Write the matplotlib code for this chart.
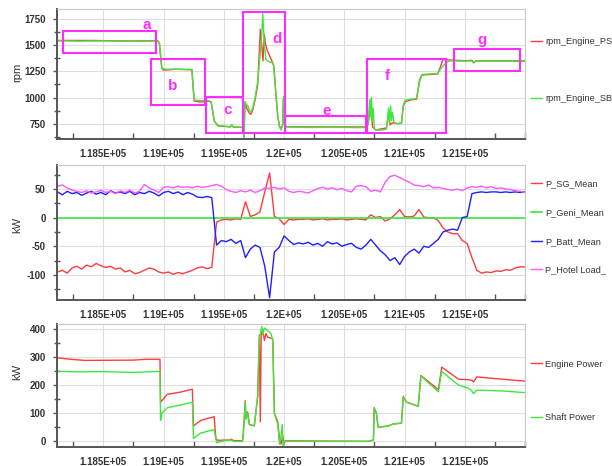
import numpy as np
import matplotlib
matplotlib.use("Agg")
from matplotlib import pyplot as plt
from matplotlib.patches import Rectangle
from matplotlib.ticker import MultipleLocator

plt.rcParams["font.family"] = ["Liberation Sans", "DejaVu Sans"]
plt.rcParams["axes.unicode_minus"] = False

# shared time axis
x_ticks = [118500, 119000, 119500, 120000, 120500, 121000, 121500]
x_tick_labels = ["1.185E+05", "1.19E+05", "1.195E+05", "1.2E+05", "1.205E+05", "1.21E+05", "1.215E+05"]

# --- top panel: engine rpm ---
t_sb = [118120, 118300, 118500, 118700, 118950, 118965, 118985, 119000, 119100, 119235, 119245, 119255, 119300, 119378, 119395,
	119420, 119450, 119500, 119555, 119565, 119580, 119640, 119660, 119668, 119676, 119690, 119700, 119712, 119725, 119740,
	119760, 119781, 119800, 119815, 119823, 119837, 119850, 119880, 119906, 119915, 119935, 119948, 119962, 119975, 119989,
	119995, 120003, 120017, 120200, 120400, 120600, 120690, 120700, 120711, 120718, 120725, 120732, 120739, 120750, 120780,
	120810, 120850, 120868, 120875, 120885, 120892, 120900, 120912, 120940, 120975, 120990, 121005, 121060, 121100, 121125,
	121145, 121200, 121275, 121310, 121345, 121370, 121500, 121560, 121573, 121590, 122000]
rpm_sb = [1542, 1538, 1541, 1537, 1540, 1520, 1290, 1272, 1270, 1268, 1100, 975, 972, 970, 960,
	780, 735, 728, 722, 740, 720, 718, 715, 620, 955, 930, 920, 880, 860, 900,
	1000, 1150, 1400, 1600, 1800, 1500, 1360, 1340, 1330, 1300, 1000, 820, 720, 690, 740,
	1010, 760, 720, 715, 718, 714, 716, 760, 980, 820, 1000, 780, 900, 700, 690,
	690, 700, 900, 760, 920, 780, 860, 760, 750, 755, 930, 975, 985, 990, 1150,
	1220, 1225, 1230, 1290, 1330, 1350, 1348, 1350, 1330, 1348, 1345]

t_ps = [118120, 118400, 118700, 118950, 118965, 118985, 119000, 119100, 119235, 119245, 119255, 119300, 119378, 119395, 119420,
	119450, 119500, 119555, 119565, 119580, 119660, 119668, 119676, 119690, 119712, 119725, 119740, 119760, 119781, 119795,
	119803, 119815, 119825, 119837, 119845, 119860, 119880, 119906, 119915, 119935, 119948, 119962, 119975, 119989, 119995,
	120003, 120017, 120300, 120690, 120705, 120715, 120725, 120735, 120760, 120800, 120850, 120870, 120880, 120900, 120940,
	120975, 120990, 121005, 121060, 121100, 121125, 121145, 121200, 121275, 121300, 121320, 121345, 121500, 121560, 121573,
	121590, 122000]
rpm_ps = [1545, 1545, 1540, 1542, 1520, 1280, 1262, 1270, 1266, 1100, 968, 958, 965, 955, 780,
	730, 726, 720, 735, 718, 716, 700, 960, 900, 850, 840, 880, 980, 1120, 1450,
	1650, 1500, 1350, 1600, 1520, 1450, 1400, 1330, 1300, 990, 820, 730, 700, 740, 990,
	760, 722, 720, 720, 800, 960, 850, 720, 690, 700, 710, 850, 740, 760, 752,
	758, 920, 960, 980, 985, 1170, 1215, 1220, 1225, 1300, 1365, 1360, 1352, 1355, 1335,
	1350, 1350]

# marked regions on the rpm plot
box_names = ["a", "b", "c", "d", "e", "f", "g"]
box_x = [(118169, 118933), (118892, 119342), (119350, 119656), (119661, 120009), (120009, 120677), (120689, 121344), (121408, 121961)]
box_y = [(1430, 1639), (930, 1370), (664, 1009), (664, 1819), (664, 828), (664, 1370), (1250, 1462)]
name_pos = [(118864, 1693), (119073, 1107), (119531, 879), (119942, 1557), (120350, 870), (120856, 1202), (121642, 1550)]

# --- middle panel: power split, sampled every 40 s ---
t_mid = np.arange(118120, 122001, 40)
p_sg = [-95, -92, -97, -88, -85, -90, -83, -86, -80, -84, -87, -85, -90, -88, -95, -92, -98, -96, -92, -88,
	-90, -95, -97, -95, -99, -96, -98, -95, -92, -88, -86, -89, -87, -8, -4, -3, -4, -2, -3, 28,
	2, 5, 10, 45, 78, 2, -2, -12, -3, -4, -3, -3, -2, -4, -3, -2, -4, -3, -3, -2,
	-4, -3, -2, -3, -4, 5, 0, 2, -6, -2, 5, 14, 2, 1, 3, 14, 1, 0, 0, -5,
	-18, -25, -28, -28, -40, -45, -70, -92, -97, -95, -96, -93, -94, -91, -92, -88, -86, -86]
p_batt = [45, 40, 46, 42, 44, 39, 43, 46, 41, 44, 40, 47, 43, 45, 42, 46, 40, 44, 42, 46,
	43, 38, 44, 46, 42, 45, 40, 44, 41, 36, 35, 37, 35, -48, -40, -42, -38, -45, -40, -70,
	-55, -48, -52, -85, -140, -60, -52, -32, -40, -47, -44, -46, -43, -48, -45, -50, -42, -46, -44, -50,
	-47, -45, -52, -55, -48, -38, -48, -58, -65, -75, -70, -82, -68, -60, -55, -62, -50, -52, -45, -38,
	-25, -22, -20, -22, 0, 2, 42, 44, 45, 44, 45, 45, 44, 45, 44, 45, 44, 45]
p_hotel = [55, 57, 52, 48, 46, 44, 47, 43, 45, 48, 44, 46, 42, 47, 44, 48, 43, 46, 58, 52,
	48, 44, 53, 54, 52, 55, 53, 54, 52, 55, 53, 54, 56, 58, 55, 49, 46, 44, 47, 45,
	48, 44, 47, 52, 51, 53, 50, 52, 46, 44, 46, 45, 43, 47, 51, 53, 50, 52, 49, 51,
	47, 45, 55, 56, 54, 46, 48, 45, 62, 72, 74, 70, 66, 62, 57, 56, 54, 57, 52, 53,
	51, 49, 48, 50, 47, 52, 54, 53, 55, 52, 54, 51, 52, 50, 49, 47, 46, 44]
t_geni = [118120, 122000]
p_geni = [0, 0]

# --- bottom panel: engine / shaft power ---
t_eng = [118120, 118250, 118350, 118750, 118850, 118970, 118975, 119031, 119142, 119239, 119248, 119309, 119420, 119434, 119448,
	119550, 119560, 119580, 119655, 119662, 119678, 119684, 119698, 119712, 119753, 119781, 119795, 119803, 119810, 119823,
	119837, 119850, 119864, 119892, 119906, 119920, 119948, 119962, 119975, 119989, 119998, 120010, 120700, 120742, 120748,
	120767, 120781, 120864, 120906, 120975, 120989, 121017, 121114, 121136, 121281, 121309, 121448, 121531, 121559, 121573,
	121600, 121809, 122000]
p_eng = [298, 292, 289, 290, 293, 293, 140, 168, 176, 186, 55, 75, 88, 10, 4,
	5, 8, 3, 2, 30, 145, 80, 105, 60, 56, 160, 380, 70, 380, 400,
	360, 385, 372, 368, 365, 100, 70, 10, -10, 20, -10, 2, 0, 5, 120,
	100, 50, 55, 62, 65, 160, 140, 125, 235, 185, 265, 222, 220, 218, 212,
	230, 222, 215]
t_shaft = [118120, 118300, 118500, 118750, 118970, 118975, 118985, 119031, 119142, 119239, 119248, 119309, 119420, 119440, 119500,
	119560, 119580, 119655, 119662, 119678, 119684, 119698, 119712, 119753, 119781, 119795, 119803, 119815, 119823, 119837,
	119864, 119892, 119906, 119920, 119948, 119962, 119975, 119985, 119992, 120003, 120700, 120742, 120748, 120767, 120781,
	120864, 120906, 120975, 120989, 121017, 121114, 121136, 121281, 121309, 121448, 121531, 121559, 121573, 121600, 121809,
	122000]
p_shaft = [250, 248, 249, 246, 250, 75, 100, 120, 130, 140, 10, 30, 42, -5, 2,
	5, 0, 0, 20, 140, 80, 100, 60, 55, 160, 370, 380, 410, 380, 405,
	395, 385, 360, 100, 60, -10, 20, 60, -20, 0, 0, 5, 120, 100, 50,
	55, 62, 65, 157, 140, 125, 234, 177, 250, 201, 190, 180, 170, 183, 180,
	174]

RED = "#ff3c3c"
GREEN = "#3de83d"
BLUE = "#1e1eff"
PINK = "#ff55ff"
BOX = "#ff2cff"


def styleAxis(ax, yticks, ylim, yminor, ylabel, label_y):
	ax.set_xlim(118115, 122000)
	ax.set_ylim(*ylim)
	ax.set_xticks(x_ticks)
	ax.set_xticklabels(x_tick_labels)
	ax.xaxis.set_minor_locator(MultipleLocator(250))
	ax.set_yticks(yticks)
	ax.yaxis.set_minor_locator(MultipleLocator(yminor))
	ax.grid(True, which="major", color="#dddddd", linewidth=0.8)
	ax.set_axisbelow(True)
	ax.tick_params(axis="x", which="major", length=0, pad=7, labelsize=7, labelcolor="#333333")
	ax.tick_params(axis="x", which="minor", direction="in", length=4, width=1, color="#555555")
	ax.tick_params(axis="y", which="major", direction="out", length=3, width=1, color="#555555", pad=5, labelsize=7, labelcolor="#333333")
	ax.tick_params(axis="y", which="minor", direction="inout", length=5, width=1, color="#555555")
	for lbl in ax.get_xticklabels() + ax.get_yticklabels():
		lbl.set_fontweight("bold")
	for side in ["top", "right"]:
		ax.spines[side].set_color("#c8c8c8")
		ax.spines[side].set_linewidth(0.8)
	for side in ["left", "bottom"]:
		ax.spines[side].set_color("#555555")
		ax.spines[side].set_linewidth(1.4)
	ax.set_ylabel(ylabel, fontsize=8, color="#333333")
	ax.yaxis.set_label_coords(-0.075, label_y)


def addLegend(ax, spacing, center_y):
	ax.legend(loc="center left", bbox_to_anchor=(1.0, center_y), frameon=False, fontsize=6.6, labelcolor="#333333",
		handlelength=1.2, handletextpad=0.3, borderaxespad=0.3, labelspacing=spacing)


def pyPlot():
	fig = plt.figure(figsize=(6.12, 4.66), dpi=100)
	ax1 = fig.add_axes([0.0931, 0.7017, 0.7647, 0.279])
	ax2 = fig.add_axes([0.0931, 0.3562, 0.7647, 0.2897])
	ax3 = fig.add_axes([0.0931, 0.0408, 0.7647, 0.264])

	ax1.plot(t_ps, rpm_ps, color=RED, linewidth=1.0, label="rpm_Engine_PS")
	ax1.plot(t_sb, rpm_sb, color=GREEN, linewidth=1.0, label="rpm_Engine_SB")
	for name, bx, by, pos in zip(box_names, box_x, box_y, name_pos):
		ax1.add_patch(Rectangle((bx[0], by[0]), bx[1] - bx[0], by[1] - by[0], fill=False, edgecolor=BOX, linewidth=1.5, zorder=5))
		ax1.text(pos[0], pos[1], name, color=BOX, fontsize=11, fontweight="bold", ha="center", va="center", zorder=6)
	styleAxis(ax1, [750, 1000, 1250, 1500, 1750], (605, 1845), 125, "rpm", 0.515)
	addLegend(ax1, 5.2, 0.53)

	ax2.plot(t_mid, p_sg, color=RED, linewidth=1.0, label="P_SG_Mean")
	ax2.plot(t_geni, p_geni, color=GREEN, linewidth=1.2, label="P_Geni_Mean")
	ax2.plot(t_mid, p_batt, color=BLUE, linewidth=1.0, label="P_Batt_Mean")
	ax2.plot(t_mid, p_hotel, color=PINK, linewidth=1.0, label="P_Hotel Load_")
	styleAxis(ax2, [-100, -50, 0, 50], (-144, 92), 25, "kW", 0.556)
	addLegend(ax2, 2.15, 0.54)

	ax3.plot(t_eng, p_eng, color=RED, linewidth=1.0, label="Engine Power")
	ax3.plot(t_shaft, p_shaft, color=GREEN, linewidth=1.0, label="Shaft Power")
	styleAxis(ax3, [0, 100, 200, 300, 400], (-20, 419), 50, "kW", 0.61)
	addLegend(ax3, 4.9, 0.455)

	fig.savefig("out.png", dpi=100)
	return fig


if __name__ == "__main__":
	pyPlot()
